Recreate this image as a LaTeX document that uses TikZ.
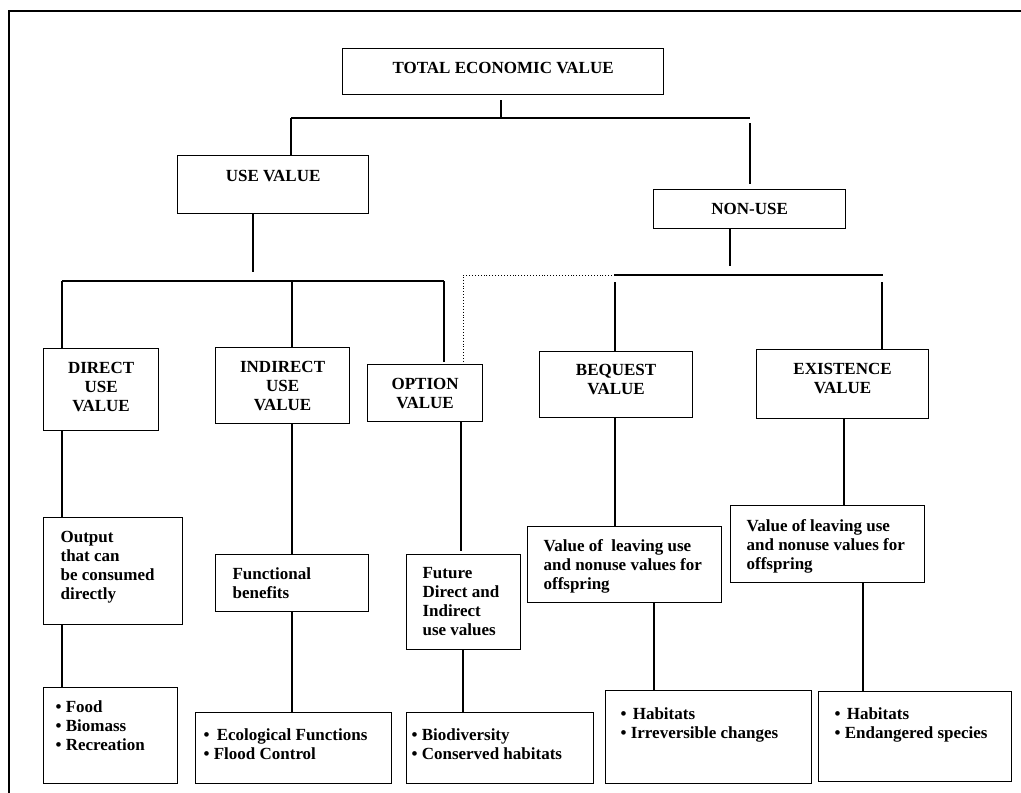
\documentclass[tikz,border=0pt]{standalone}
\usepackage{fontspec}
\setmainfont{Liberation Serif}

\begin{document}
\begin{tikzpicture}[x=1pt,y=-1pt,line width=1.2pt,
  box/.style={draw,anchor=north west,font=\bfseries\fontsize{17}{19}\selectfont}]
\useasboundingbox (0,0) rectangle (1021,793);
% frame (runs off the page right and below)
\draw[line width=1.6pt] (9,800) |- (1030,11);
% top levels
\node[box,inner xsep=4pt,inner ysep=13.2pt] (tev) at (342,48)
  {\parbox[c][19.6pt][t]{313pt}{\centering TOTAL ECONOMIC VALUE}};
\node[box,inner xsep=4pt,inner ysep=14.2pt] (use) at (177,155)
  {\parbox[c][29.6pt][t]{183pt}{\centering USE VALUE}};
\node[box,inner xsep=4pt,inner ysep=13.2pt] (nonuse) at (653,189)
  {\parbox[c][12.6pt][t]{184pt}{\centering NON-USE}};
% value types
\node[box,inner xsep=4pt,inner ysep=13.2pt] (direct) at (43,348)
  {\parbox[c][55.6pt][t]{107pt}{\centering DIRECT\\ USE\\ VALUE}};
\node[box,inner xsep=4pt,inner ysep=13.5pt] (indirect) at (215,347)
  {\parbox[c][49pt][t]{126pt}{\centering INDIRECT\\ USE\\ VALUE}};
\node[box,inner xsep=4pt,inner ysep=13.2pt] (option) at (367,364)
  {\parbox[c][30.6pt][t]{107pt}{\centering OPTION\\ VALUE}};
\node[box,inner xsep=4pt,inner ysep=12.2pt] (bequest) at (539,351)
  {\parbox[c][41.6pt][t]{145pt}{\centering BEQUEST\\ VALUE}};
\node[box,inner xsep=4pt,inner ysep=13.2pt] (existence) at (756,349)
  {\parbox[c][42.6pt][t]{164pt}{\centering EXISTENCE\\ VALUE}};
% what they stand for
\node[box,inner xsep=17pt,inner ysep=13.2pt] (output) at (43,517)
  {\parbox[c][80.6pt][t]{105pt}{\raggedright Output\\ that can\\ be consumed\\ directly}};
\node[box,inner xsep=17pt,inner ysep=13.2pt] (functional) at (215,554)
  {\parbox[c][30.6pt][t]{119pt}{\raggedright Functional\\ benefits}};
\node[box,inner xsep=16pt,inner ysep=13.2pt] (future) at (406,554)
  {\parbox[c][68.6pt][t]{82pt}{\raggedright Future\\ Direct and\\ Indirect\\ use values}};
\node[box,inner xsep=16pt,inner ysep=13.2pt] (bqval) at (527,526)
  {\parbox[c][49.6pt][t]{162pt}{\raggedright Value of~ leaving use\\ and nonuse values for\\ offspring}};
\node[box,inner xsep=16pt,inner ysep=14.2pt] (exval) at (730,505)
  {\parbox[c][48.6pt][t]{162pt}{\raggedright Value of leaving use\\ and nonuse values for\\ offspring}};
% examples
\node[box,inner xsep=12pt,inner ysep=13.2pt] (food) at (43,687)
  {\parbox[c][69.6pt][t]{110pt}{\raggedright \textbullet\ Food\\ \textbullet\ Biomass\\ \textbullet\ Recreation}};
\node[box,inner xsep=8pt,inner ysep=16.2pt] (ecol) at (195,712)
  {\parbox[c][38.6pt][t]{180pt}{\raggedright \textbullet\hspace{3pt} Ecological Functions\\ \textbullet\ Flood Control}};
\node[box,inner xsep=5pt,inner ysep=16.2pt] (biod) at (406,712)
  {\parbox[c][38.6pt][t]{177pt}{\raggedright \textbullet\ Biodiversity\\ \textbullet\ Conserved habitats}};
\node[box,inner xsep=15pt,inner ysep=17.2pt] (hab1) at (605,690)
  {\parbox[c][58.6pt][t]{176pt}{\raggedright \textbullet\hspace{2pt} Habitats\\ \textbullet\ Irreversible changes}};
\node[box,inner xsep=16pt,inner ysep=16.2pt] (hab2) at (818,691)
  {\parbox[c][57.6pt][t]{161pt}{\raggedright \textbullet\hspace{2pt} Habitats\\ \textbullet\ Endangered species}};
% junctions
\coordinate (j0) at (501,118);
\coordinate (bl) at (291,118);
\coordinate (br) at (750,118);
\coordinate (u1) at (253,272);
\coordinate (d1) at (62,281);
\coordinate (d2) at (292,280);
\coordinate (d3) at (444,281);
\coordinate (n1) at (730,266);
\coordinate (e1) at (615,275);
\coordinate (e2) at (882,275);
\coordinate (o1) at (463,275);
\coordinate (o2) at (612,275);
\coordinate (h1) at (654,0);
\coordinate (h2) at (844,0);
\coordinate (h3) at (863,0);
% total value splits
\draw[shorten <=5pt] (tev.south -| j0) -- (j0);
\draw (bl) -- (br);
\draw (bl) -- (use.north -| bl);
\draw[shorten <=5pt,shorten >=5pt] (br) -- (nonuse.north -| br);
% use value branch
\draw (use.south -| u1) -- (u1);
\draw (d1) -- (d3);
\draw (d1) -- (direct.north -| d1);
\draw (d2) -- (indirect.north -| d2);
\draw[shorten >=2pt] (d3) -- (option.north -| d3);
% non-use branch
\draw (nonuse.south -| n1) -- (n1);
\draw ([xshift=-1pt]e1) -- ([xshift=1pt]e2);
\draw[shorten <=7pt] (e1) -- (bequest.north -| e1);
\draw[shorten <=7pt] (e2) -- (existence.north -| e2);
\draw[dotted,line width=0.9pt] (o2) -- (o1) -- ([yshift=1pt]option.north -| o1);
% down the columns
\draw (direct.south -| d1) -- (output.north -| d1);
\draw (output.south -| d1) -- (food.north -| d1);
\draw (indirect.south -| d2) -- (functional.north -| d2);
\draw (functional.south -| d2) -- (ecol.north -| d2);
\draw[shorten >=3pt] ([xshift=-2pt]option.south -| o1) -- ([xshift=-2pt]future.north -| o1);
\draw (future.south -| o1) -- (biod.north -| o1);
\draw (bequest.south -| e1) -- (bqval.north -| e1);
\draw (bqval.south -| h1) -- (hab1.north -| h1);
\draw (existence.south -| h2) -- (exval.north -| h2);
\draw (exval.south -| h3) -- (hab2.north -| h3);
\end{tikzpicture}
\end{document}
